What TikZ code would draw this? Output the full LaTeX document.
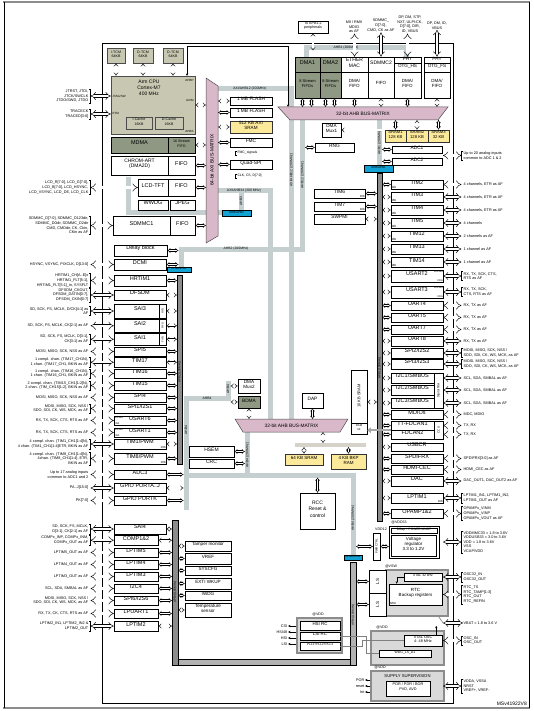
\documentclass[tikz,border=0pt]{standalone}
\usepackage{fontspec}
\setmainfont{Liberation Sans}
\usetikzlibrary{arrows.meta,fit,calc}
\definecolor{olivea}{HTML}{C8C8B2}
\definecolor{oliveb}{HTML}{8E9882}
\definecolor{pinkm}{HTML}{D9B8C9}
\definecolor{sramy}{HTML}{FCE99A}
\definecolor{busg}{HTML}{C6CFCF}
\definecolor{apbg}{HTML}{8C8C8C}
\definecolor{bluel}{HTML}{12A2D4}
\definecolor{pwrg}{HTML}{D9D9D9}
\definecolor{beigeb}{HTML}{D5D2CA}
\tikzset{
 box/.style={draw=black, line width=0.5pt, fill=white, inner sep=0pt, font=\fontsize{5.5}{6}\selectfont, align=center},
 obox/.style={box, fill=olivea, draw=black!70},
 dbox/.style={box, fill=oliveb},
 sbox/.style={box, fill=sramy, draw=black!80, line width=0.7pt},
 pinl/.style={font=\fontsize{3.8}{4.6}\selectfont, align=right, inner sep=0.5pt},
 pinr/.style={font=\fontsize{3.8}{4.6}\selectfont, align=left, inner sep=0.5pt},
 tinyt/.style={font=\fontsize{3}{3.4}\selectfont, inner sep=0.3pt, align=center},
 dbl/.style={double=white, double distance=2.4pt, line width=0.45pt, {Implies}-{Implies}},
 dbls/.style={double=white, double distance=1.3pt, line width=0.4pt, {Implies}-{Implies}},
 bus/.style={busg, line width=5pt},
 apb/.style={draw=black, line width=0.4pt, fill=apbg, inner sep=0pt},
 blab/.style={draw=black, line width=0.4pt, fill=bluel, inner sep=0.3pt, font=\fontsize{3}{3}\selectfont},
 buslab/.style={font=\fontsize{3.4}{3.6}\selectfont, inner sep=0pt},
 grp/.style={draw=black!45, line width=1.2pt, fill=pwrg, inner sep=0pt},
 sarrow/.style={line width=0.5pt, -{Stealth[length=2.5pt,width=2.2pt]}},
}
\newcommand\LP[7]{%
 \node[box, fit={(114,#3)(#2,#4)}] (#1) {#5};
 \node[pinl, anchor=east] (#1L) at (89,{(#3+#4)/2}) {#6};
 \draw[dbl] ([xshift=1.6pt]#1L.east) -- (#1.west);
 \draw[dbls] (#1.east) -- (#1.east -| #7);}
\newcommand\RP[6]{%
 \node[box, fit={(391,#3)(#2,#4)}] (#1) {#5};
 \node[pinr, anchor=west] (#1L) at (463,{(#3+#4)/2}) {#6};
 \draw[dbl] (#1L.west -| pinR) -- ([xshift=-1.6pt]#1L.west);
 \draw[dbls] (#1.west -| apbix) -- (#1.west);}
\newcommand\brL[1]{\draw[line width=0.35pt] ([xshift=0.4pt]#1.north east) -- ++(1.2,0) |- ([xshift=0.4pt]#1.south east);}
\newcommand\brR[1]{\draw[line width=0.35pt] ([xshift=-0.4pt]#1.north west) -- ++(-1.2,0) |- ([xshift=-0.4pt]#1.south west);}
\begin{document}
\begin{tikzpicture}[x=1pt,y=-1pt]
\useasboundingbox (0,0) rectangle (534,711);
% reference coordinates
\coordinate (axL) at (206,0);
\coordinate (axR) at (218,0);
\coordinate (m1T) at (0,107);
\coordinate (m1B) at (0,120);
\coordinate (m2T) at (0,419);
\coordinate (apb2x) at (177,0);
\coordinate (ahb2x) at (178.5,0);
\coordinate (ahb4x) at (183.5,0);
\coordinate (apb4x) at (172,0);
\coordinate (apb4r) at (178,0);
\coordinate (apbix) at (382,0);
\coordinate (apbil) at (377,0);
\coordinate (pinR) at (443,0);
\coordinate (bandC) at (305,0);
\coordinate (ahbv) at (245,0);
\coordinate (bfx) at (230.5,0);
\coordinate (beigeT) at (0,443);
\coordinate (beigeB) at (0,447);
\coordinate (ahbfB) at (0,477.5);
\coordinate (ahbiband) at (0,50.5);
\coordinate (apbfR) at (356,0);
% frame
\draw[line width=1.3pt, black!45] (3,2) -- (530,2);
\draw[line width=1.3pt, black!45] (3,708) -- (530,708);
\draw[line width=0.6pt] (4,2) -- (4,708);
\draw[line width=0.6pt] (529,2) -- (529,708);
\draw[line width=0.6pt] (102,43) rectangle (453,703);
% buses
\draw[bus] (218,89) -- (291.5,89) -- (291.5,419);
\draw[bus] (302.5,120) -- (302.5,249);
\draw[bus] (178.5,249) -- (305,249);
\draw[bus] (181,246.5) -- (181,267);
\draw[bus] (218,191) -- (270.5,191) -- (270.5,419);
\draw[bus] (241,191) -- (241,211);
\draw[bus] (128,177) -- (128,213) -- (222,213);
\draw[bus] (306,48) -- (406,48);
\draw[bus] (306,45.5) -- (306,57);
\draw[bus] (406,45.5) -- (406,57);
\draw[bus] (379.5,120) -- (379.5,166);
\draw[bus] (186,510) -- (186,398) -- (228,398) -- (228,381);
\draw[bus] (186,475) -- (353,475) -- (353,556);
\draw[bus] (247.5,432) -- (247.5,475);
\draw[beigeb, line width=4pt] (295,445) -- (366,445);
\node[buslab] (lb1) at (250,89) {AXI/AHB12 (200MHz)};
\node[buslab, rotate=90] (lb2) at (291.5,170) {AXI/AHB12 (200MHz)};
\node[buslab, rotate=90] (lb3) at (302.5,175) {AHB12 (200MHz)};
\node[buslab] (lb4) at (236,249) {AHB2 (200MHz)};
\node[buslab] (lb5) at (244,191) {AXI/AHB34 (200 MHz)};
\node[buslab, rotate=90] (lb6) at (241,201) {AHB3};
\node[buslab] (lb7) at (346,48) {AHB1 (200MHz)};
\node[buslab, rotate=90] (lb8) at (379.5,142) {AHB1 (200MHz)};
\node[buslab] (lb9) at (207,398) {AHB4};
\node[buslab, rotate=90] (lb10) at (228,389) {AHB4};
\node[buslab, rotate=90] (lb11) at (186,430) {AHB4};
\node[buslab, rotate=90] (lb12) at (247.5,455) {AHB4 (200MHz)};
\node[buslab, rotate=90] (lb13) at (353,518) {AHB4 (200MHz)};
% matrices
\filldraw[fill=pinkm, draw=black!70, line width=0.5pt] (278,107) -- (448,107) -- (438,120) -- (290,120) -- cycle;
\node[font=\fontsize{4.8}{5}\selectfont] (ahbma) at (363,114) {32-bit AHB BUS-MATRIX};
\filldraw[fill=pinkm, draw=black!70, line width=0.5pt] (206,78) -- (218,86) -- (218,236) -- (206,243) -- cycle;
\node[font=\fontsize{4.8}{5}\selectfont, rotate=90] (axim) at (212,160) {64-bit AXI BUS-MATRIX};
\filldraw[fill=pinkm, draw=black!70, line width=0.5pt] (235,419) -- (348,419) -- (340,432) -- (243,432) -- cycle;
\node[font=\fontsize{4.8}{5}\selectfont] (ahbmb) at (291.5,425.5) {32-bit AHB BUS-MATRIX};
% APB bars and bridges
\node[apb, fit={(377,173)(382,521)}] (apbi) {};
\node[apb, fit={(177,275)(182,464)}] (apbii) {};
\node[apb, fit={(172,520)(178,665)}] (apbiva) {};
\node[apb, fill=black!30, fit={(178,659)(356,665)}] (apbivb) {};
\node[apb, fill=black!30, fit={(350,562)(356,665)}] (apbivc) {};
\node[buslab, rotate=90, font=\fontsize{3}{3}\selectfont] (lbp1) at (379.5,368) {APB1 (100MHz)};
\node[buslab, rotate=90, font=\fontsize{3}{3}\selectfont] (lbp2) at (179.5,372) {APB2 (100MHz)};
\node[buslab, rotate=90, font=\fontsize{3}{3}\selectfont] (lbp4) at (175,592) {APB4 (100MHz)};
\node[buslab, rotate=90, font=\fontsize{3}{3}\selectfont] (lbp5) at (353,615) {APB4 (100MHz)};
\node[blab, fit={(222,211)(251,216)}] (bliii) {AHB/APB3};
\node[blab, fit={(167,267)(191,272)}] (blii) {AHB/APB2};
\node[blab, fit={(364,166)(393,172)}] (bli) {AHB/APB1};
\node[blab, fit={(344,555)(362,560)}] (bliv) {AHB/APB4};
% CPU
\node[obox, fit={(107,48)(125,63)}, font=\fontsize{3.6}{4.2}\selectfont] (itcm) {I-TCM\\64KB};
\node[obox, fit={(133,48)(153,63)}, font=\fontsize{3.6}{4.2}\selectfont] (dtcma) {D-TCM\\64KB};
\node[obox, fit={(163,48)(183,63)}, font=\fontsize{3.6}{4.2}\selectfont] (dtcmb) {D-TCM\\64KB};
\node[obox, fit={(111,76)(195,134)}] (cpu) {};
\foreach \nm in {itcm,dtcma,dtcmb} \draw[dbls] (\nm.south) -- (\nm.south |- cpu.north);
\node[font=\fontsize{5}{6}\selectfont, align=center] (cput) at (149,88) {Arm CPU\\Cortex-M7\\400 MHz};
\node[tinyt, anchor=west] (jtagsw) at (112,96) {JTAG/SW};
\node[tinyt, anchor=west] (etm) at (112,113) {ETM};
\node[tinyt, anchor=east] (ahbp) at (194,80) {AHBP};
\node[tinyt, anchor=east] (aximl) at (194,100) {AXIM};
\node[tinyt, anchor=east] (ahbs) at (194,131) {AHBS};
\node[obox, fit={(126,117)(152,129)}, font=\fontsize{3.6}{4.2}\selectfont] (icache) {I-Cache\\16KB};
\node[obox, fit={(155,117)(183,129)}, font=\fontsize{3.6}{4.2}\selectfont] (dcache) {D-Cache\\16KB};
\coordinate (ahbpc) at (187,76);
\coordinate (mtopc) at (288,107);
\draw[line width=0.5pt, {Stealth[length=2.5pt,width=2.2pt]}-{Stealth[length=2.5pt,width=2.2pt]}] (ahbpc) |- (288,46) -- (mtopc);
\node[pinl, anchor=east] (jtagL) at (89,96) {JTRST, JTDI,\\JTCK/SWCLK\\JTDO/SWD, JTDO};
\draw[dbl] ([xshift=1.6pt]jtagL.east) -- (jtagL.east -| cpu.west);
\brL{jtagL}
\node[pinl, anchor=east] (traceL) at (89,114) {TRACECK\\TRACED[3:0]};
\draw[dbl] ([xshift=1.6pt]traceL.east) -- (traceL.east -| cpu.west);
\brL{traceL}
% left upper blocks
\node[dbox, fit={(111,137)(168,153)}] (mdma) {MDMA};
\node[dbox, fit={(168,137)(195,153)}, font=\fontsize{3.6}{4.2}\selectfont] (mdmaf) {16 Stream\\FIFO};
\node[box, fit={(111,156)(168,175)}, font=\fontsize{5}{5.8}\selectfont] (chrom) {CHROM-ART\\(DMA2D)};
\node[box, fit={(168,156)(195,175)}] (chromf) {FIFO};
\node[box, fit={(138,179)(168,196)}] (lcd) {LCD-TFT};
\node[box, fit={(168,179)(195,196)}] (lcdf) {FIFO};
\node[box, fit={(138,200)(168,210)}] (wwdg) {WWDG};
\node[box, fit={(170,200)(195,210)}] (jpeg) {JPEG};
\node[box, fit={(113,216)(170,235)}] (sdmmca) {SDMMC1};
\node[box, fit={(170,216)(195,235)}] (sdf) {FIFO};
\draw[dbls] (cpu.east) -- (cpu.east -| axL);
\foreach \nm in {mdmaf,chromf,lcdf,sdf} \draw[dbls] (\nm.east) -- (\nm.east -| axL);
\node[pinl, anchor=east] (lcdL) at (89,187.5) {LCD\_R[7:0], LCD\_G[7:0],\\LCD\_B[7:0], LCD\_HSYNC,\\LCD\_VSYNC, LCD\_DE, LCD\_CLK};
\draw[dbl] ([xshift=1.6pt]lcdL.east) -- (lcd.west);
\brL{lcdL}
\node[pinl, anchor=east] (sdaL) at (89,225.5) {SDMMC\_D[7:0], SDMMC\_D123dir,\\SDMMC\_D0dir, SDMMC\_D2dir\\CMD, CMDdir, CK, Ckin,\\CKin as AF};
\draw[dbl] ([xshift=1.6pt]sdaL.east) -- (sdmmca.west);
\brL{sdaL}
% AXI memories
\node[box, fit={(230,97)(272,105)}, font=\fontsize{4.8}{5}\selectfont] (fla) {1 MB FLASH};
\node[box, fit={(230,108)(272,117)}, font=\fontsize{4.8}{5}\selectfont] (flb) {1 MB FLASH};
\node[sbox, fit={(230,121)(272,133)}, font=\fontsize{4.6}{5.2}\selectfont] (axisram) {512 KB AXI\\SRAM};
\node[box, fit={(230,138)(272,147)}, font=\fontsize{4.8}{5}\selectfont] (fmc) {FMC};
\node[box, fit={(230,160)(272,169)}, font=\fontsize{4.8}{5}\selectfont] (qspi) {Quad-SPI};
\foreach \nm in {fla,flb,axisram,fmc,qspi} \draw[dbls] (\nm.west -| axR) -- (\nm.west);
\node[tinyt, anchor=west, font=\fontsize{3.4}{4}\selectfont] (fmcs) at (237,153) {FMC\_signals};
\draw[line width=0.35pt] ([xshift=-0.4pt]fmcs.north west) -- ++(-1.2,0) |- ([xshift=-0.4pt]fmcs.south west);
\node[tinyt, anchor=west, font=\fontsize{3.4}{4}\selectfont] (qspis) at (237,176) {CLK, CS, D[7:0]};
\draw[line width=0.35pt] ([xshift=-0.4pt]qspis.north west) -- ++(-1.2,0) |- ([xshift=-0.4pt]qspis.south west);
% top right masters
\node[box, fit={(298,21)(328,33)}, font=\fontsize{3.6}{4.3}\selectfont] (toapb) {To APB1-2\\peripherals};
\draw[dbls] (toapb.south) -- (toapb.south |- ahbiband);
\node[dbox, fit={(295,57)(320,72)}] (dmaa) {DMA1};
\node[dbox, fit={(295,72)(320,98)}, font=\fontsize{4}{4.8}\selectfont] (dmaaf) {8 Stream\\FIFOs};
\node[dbox, fit={(320,57)(341,72)}] (dmab) {DMA2};
\node[dbox, fit={(320,72)(341,98)}, font=\fontsize{4}{4.8}\selectfont] (dmabf) {8 Stream\\FIFOs};
\node[box, fit={(341,57)(368,72)}, font=\fontsize{5}{5.6}\selectfont] (eth) {ETHER\\MAC};
\node[box, fit={(341,72)(368,98)}, font=\fontsize{4.5}{5.2}\selectfont] (ethf) {DMA/\\FIFO};
\node[box, fit={(368,57)(394,72)}, font=\fontsize{5}{5.6}\selectfont] (sdb) {SDMMC2};
\node[box, fit={(368,72)(394,98)}, font=\fontsize{4.5}{5.2}\selectfont] (sdbf) {FIFO};
\node[box, fit={(394,57)(421,63.5)}, font=\fontsize{4.6}{5}\selectfont] (phyhs) {PHY};
\node[box, fit={(394,63.5)(421,72)}, font=\fontsize{4.6}{5}\selectfont] (otghs) {OTG\_HS};
\node[box, fit={(394,72)(421,98)}, font=\fontsize{4.5}{5.2}\selectfont] (otghsf) {DMA/\\FIFO};
\node[box, fit={(424,57)(450,63.5)}, font=\fontsize{4.6}{5}\selectfont] (phyfs) {PHY};
\node[box, fit={(424,63.5)(450,72)}, font=\fontsize{4.6}{5}\selectfont] (otgfs) {OTG\_FS};
\node[box, fit={(424,72)(450,98)}, font=\fontsize{4.5}{5.2}\selectfont] (otgfsf) {DMA/\\FIFO};
\foreach \nm in {dmaaf,dmabf} {
 \draw[dbls] ([xshift=-5pt]\nm.south) -- ([xshift=-5pt]\nm.south |- m1T);
 \draw[dbls] ([xshift=4pt]\nm.south) -- ([xshift=4pt]\nm.south |- m1T);}
\foreach \nm in {ethf,sdbf,otghsf,otgfsf} \draw[dbls] (\nm.south) -- (\nm.south |- m1T);
\node[pinr, align=center] (miiL) at (354,27) {MII / RMII\\MDIO\\as AF};
\node[pinr, align=center] (sdbL) at (381,25.5) {SDMMC\_\\D[7:0],\\CMD, CK as AF};
\node[pinr, align=center] (hsL) at (410,24.5) {DP, DM, STP,\\NXT, ULPI:CK,\\D[7:0], DIR,\\ID, VBUS};
\node[pinr, align=center] (fsL) at (437,25.5) {DP, DM, ID,\\VBUS};
\draw[dbl] (eth.north |- miiL.south) -- (eth.north);
\draw[dbl] (sdb.north |- sdbL.south) -- (sdb.north);
\draw[dbl] (phyhs.north |- hsL.south) -- (phyhs.north);
\draw[dbl] (phyfs.north |- fsL.south) -- (phyfs.north);
% AHB1 slaves
\node[sbox, fit={(385,130)(406,142)}, font=\fontsize{4.2}{4.8}\selectfont] (srama) {SRAM1\\128 KB};
\node[sbox, fit={(406,130)(428,142)}, font=\fontsize{4.2}{4.8}\selectfont] (sramb) {SRAM2\\128 KB};
\node[sbox, fit={(428,130)(449,142)}, font=\fontsize{4.2}{4.8}\selectfont] (sramc) {SRAM3\\32 KB};
\foreach \nm in {srama,sramb,sramc} \draw[dbls] (\nm.north |- m1B) -- (\nm.north);
\node[box, fit={(322,123)(341,137)}, font=\fontsize{4.6}{5.2}\selectfont] (dmamuxa) {DMA\\Mux1};
\draw[double=white, double distance=1.3pt, line width=0.4pt, -{Implies}] (srama.west |- dmamuxa.east) -- (dmamuxa.east);
\node[box, fit={(315,143)(354,152)}, font=\fontsize{4.8}{5}\selectfont] (rng) {RNG};
\draw[dbls] (rng.west -| bandC) -- (rng.west);
\node[box, fit={(392,146)(442,153)}, font=\fontsize{4.8}{5}\selectfont] (adca) {ADC1};
\node[box, fit={(392,158)(442,165)}, font=\fontsize{4.8}{5}\selectfont] (adcb) {ADC2};
\draw[dbls] (adca.west -| apbix) -- (adca.west);
\draw[dbls] (adcb.west -| apbix) -- (adcb.west);
\node[pinr, anchor=west] (adcL) at (463,155.5) {Up to 20 analog inputs\\common to ADC 1 \& 2};
\draw[dbl] (adcL.west -| pinR) -- ([xshift=-1.6pt]adcL.west);
\brR{adcL}
\node[box, fit={(314,189)(365,198)}, font=\fontsize{4.8}{5}\selectfont] (timvi) {TIM6};
\node[box, fit={(314,202)(365,211)}, font=\fontsize{4.8}{5}\selectfont] (timvii) {TIM7};
\node[box, fit={(314,214)(365,224)}, font=\fontsize{4.8}{5}\selectfont] (swpmi) {SWPMI};
\node[tinyt, anchor=south east] (timvit) at (timvi.south east) {16b};
\node[tinyt, anchor=south east] (timviit) at (timvii.south east) {16b};
\foreach \nm in {timvi,timvii,swpmi} \draw[dbls] (\nm.east) -- (\nm.east -| apbil);
% left peripherals
\node[box, fit={(114,245)(167,256)}] (delay) {Delay block};
\draw[dbls] (delay.east) -- (delay.east -| ahb2x);
\LP{dcmi}{166}{259}{270}{DCMI}{HSYNC, VSYNC, PIXCLK, D[13:0]}{ahb2x}
\LP{hrtim}{166}{275}{286}{HRTIM1}{HRTIM1\_CH[A..E]x\\HRTIM1\_FLT[5:1],\\HRTIM1\_FLT[5:1]\_in, SYSFLT}{apb2x}
\brL{hrtimL}
\LP{dfsdm}{166}{290}{300}{DFSDM}{DFSDM\_CKOUT,\\DFSDM\_DATIN[0:7],\\DFSDM\_CKIN[0:7]}{apb2x}
\brL{dfsdmL}
\LP{saiiii}{166}{304}{318}{SAI3}{SD, SCK, FS, MCLK, D/CK[4:1] as\\AF}{apb2x}
\brL{saiiiiL}
\LP{saiii}{166}{319.5}{332}{SAI2}{SD, SCK, FS, MCLK, CK[2:1] as AF}{apb2x}
\LP{saii}{166}{333.5}{345}{SAI1}{SD, SCK, FS, MCLK, D[3:1],\\CK[3:1] as AF}{apb2x}
\brL{saiiL}
\foreach \nm in {saiiii,saiii,saii} {
 \draw[line width=0.4pt] ([xshift=-7pt]\nm.north east) -- ([xshift=-7pt]\nm.south east);
 \node[tinyt, rotate=90, font=\fontsize{2.6}{3}\selectfont] (\nm ft) at ([xshift=-3.5pt]\nm.east) {FIFO};}
\LP{spiv}{166}{347}{356}{SPI5}{MOSI, MISO, SCK, NSS as AF}{apb2x}
\LP{timxvii}{166}{357.5}{367}{TIM17}{1 compl. chan. (TIM17\_CH1N),\\1 chan. (TIM17\_CH1, BKIN as AF}{apb2x}
\brL{timxviiL}
\LP{timxvi}{166}{369}{378}{TIM16}{1 compl. chan. (TIM16\_CH1N),\\1 chan. (TIM16\_CH1, BKIN as AF}{apb2x}
\brL{timxviL}
\LP{timxv}{166}{381}{390}{TIM15}{2 compl. chan. (TIM15\_CH1[1:2]N),\\2 chan. (TIM\_CH15[1:2], BKIN as AF}{apb2x}
\brL{timxvL}
\LP{spiiv}{166}{393}{402}{SPI4}{MOSI, MISO, SCK, NSS as AF}{apb2x}
\LP{spii}{166}{404}{413}{SPI1/I2S1}{MOSI, MISO, SCK, NSS /\\SDO, SDI, CK, WS, MCK, as AF}{apb2x}
\brL{spiiL}
\LP{usartvi}{166}{416}{425}{USART6}{RX, TX, SCK, CTS, RTS as AF}{apb2x}
\LP{usarti}{166}{428}{437}{USART1}{RX, TX, SCK, CTS, RTS as AF}{apb2x}
\node[tinyt, anchor=north west, font=\fontsize{2.6}{3}\selectfont] (usvia) at (usartvi.north west) {smcard};
\node[tinyt, anchor=south west, font=\fontsize{2.6}{3}\selectfont] (usvib) at (usartvi.south west) {IrDA};
\node[tinyt, anchor=north west, font=\fontsize{2.6}{3}\selectfont] (usia) at (usarti.north west) {smcard};
\node[tinyt, anchor=south west, font=\fontsize{2.6}{3}\selectfont] (usib) at (usarti.south west) {IrDA};
\LP{timi}{166}{439}{449}{TIM1/PWM}{4 compl. chan. (TIM1\_CH1[1:4]N),\\4 chan. (TIM1\_CH1[1:4]ETR, BKIN as AF}{apb2x}
\brL{timiL}
\LP{timviii}{166}{453}{464}{TIM8/PWM}{4 compl. chan. (TIM8\_CH1[1:4]N),\\4chan. (TIM8\_CH1[1:4], ETR,\\BKIN as AF}{apb2x}
\brL{timviiiL}
\node[tinyt, anchor=south east] (timit) at (timi.south east) {16b};
\node[tinyt, anchor=south east] (timviiit) at (timviii.south east) {16b};
\LP{adciii}{166}{470}{479}{ADC3}{Up to 17 analog inputs\\common to ADC1 and 2}{ahb4x}
\LP{gpioa}{166}{483}{493}{GPIO PORTA..J}{PA..J[15:0]}{ahb4x}
\LP{gpiok}{166}{496}{505}{GPIO PORTK}{PK[7:0]}{ahb4x}
\LP{saiiv}{166}{524}{534}{SAI4}{SD, SCK, FS, MCLK,\\D[3:1], CK[2:1] as AF}{apb4x}
\brL{saiivL}
\LP{comp}{158}{535.5}{545}{COMP1\&2}{COMPx\_INP, COMPx\_INM,\\COMPx\_OUT as AF}{apb4x}
\brL{compL}
\LP{lptimv}{158}{548}{557}{LPTIM5}{LPTIM5\_OUT as AF}{apb4x}
\LP{lptimiv}{158}{560}{569}{LPTIM4}{LPTIM4\_OUT as AF}{apb4x}
\LP{lptimiii}{158}{572}{581}{LPTIM3}{LPTIM3\_OUT as AF}{apb4x}
\LP{iiciv}{158}{584}{593}{I2C4}{SCL, SDA, SMBAL as AF}{apb4x}
\LP{spivi}{158}{596}{605}{SPI6/I2S6}{MOSI, MISO, SCK, NSS /\\SDO, SDI, CK, WS, MCK, as AF}{apb4x}
\LP{lpuart}{158}{609}{618}{LPUART1}{RX, TX, CK, CTS, RTS as AF}{apb4x}
\LP{lptimii}{158}{621}{631}{LPTIM2}{LPTIM2\_IN1, LPTIM2\_IN2 \&\\LPTIM2\_OUT}{apb4x}
\brL{lptimiiL}
% right peripherals
\RP{timii}{443}{180}{189}{TIM2}{4 channels, ETR as AF}
\RP{timiii}{443}{192}{202}{TIM3}{4 channels, ETR as AF}
\RP{timiv}{443}{205}{215}{TIM4}{4 channels, ETR as AF}
\RP{timv}{443}{218}{228}{TIM5}{4 channels}
\RP{timxii}{443}{231}{241}{TIM12}{2 channels as AF}
\RP{timxiii}{443}{244}{254}{TIM13}{1 channel as AF}
\RP{timxiv}{443}{257}{267}{TIM14}{1 channel as AF}
\node[tinyt, anchor=south west] (tgii) at (timii.south west) {32b};
\node[tinyt, anchor=south west] (tgiii) at (timiii.south west) {16b};
\node[tinyt, anchor=south west] (tgiv) at (timiv.south west) {16b};
\node[tinyt, anchor=south west] (tgv) at (timv.south west) {32b};
\node[tinyt, anchor=south west] (tgxii) at (timxii.south west) {16b};
\node[tinyt, anchor=south west] (tgxiii) at (timxiii.south west) {16b};
\node[tinyt, anchor=south west] (tgxiv) at (timxiv.south west) {16b};
\RP{usartii}{443}{270}{282}{USART2}{RX, TX, SCK, CTS,\\RTS as AF}
\brR{usartiiL}
\RP{usartiii}{443}{286}{298}{USART3}{RX, TX, SCK,\\CTS, RTS as AF}
\brR{usartiiiL}
\node[tinyt, anchor=north east, font=\fontsize{2.6}{3}\selectfont] (usiia) at (usartii.north east) {smcard};
\node[tinyt, anchor=south east, font=\fontsize{2.6}{3}\selectfont] (usiib) at (usartii.south east) {IrDA};
\node[tinyt, anchor=north east, font=\fontsize{2.6}{3}\selectfont] (usiiia) at (usartiii.north east) {smcard};
\node[tinyt, anchor=south east, font=\fontsize{2.6}{3}\selectfont] (usiiib) at (usartiii.south east) {IrDA};
\RP{uartiv}{443}{301}{310}{UART4}{RX, TX as AF}
\RP{uartv}{443}{313}{322}{UART5}{RX, TX as AF}
\RP{uartvii}{443}{325}{334}{UART7}{RX, TX as AF}
\RP{uartviii}{443}{336}{346}{UART8}{RX, TX as AF}
\RP{spiii}{443}{348}{358}{SPI2/I2S2}{MOSI, MISO, SCK, NSS /\\SDO, SDI, CK, WS, MCK, as AF}
\brR{spiiiL}
\RP{spiiii}{443}{359}{369}{SPI3/I2S3}{MOSI, MISO, SCK, NSS /\\SDO, SDI, CK, WS, MCK, as AF}
\brR{spiiiiL}
\RP{iici}{434}{373}{383}{I2C1/SMBUS}{SCL, SDA, SMBAL as AF}
\RP{iicii}{434}{385}{395}{I2C2/SMBUS}{SCL, SDA, SMBAL as AF}
\RP{iiciii}{434}{398}{408}{I2C3/SMBUS}{SCL, SDA, SMBAL as AF}
\node[box, fit={(434,373)(443,408)}] (iicside) {};
\node[tinyt, rotate=90] (iicsidet) at (iicside) {Digital filter};
\RP{mdio}{443}{410}{419}{MDIOs}{MDC, MDIO}
\RP{fdcani}{434}{421}{430}{TT-FDCAN1}{TX, RX}
\RP{fdcanii}{434}{430}{439}{FDCAN2}{TX, RX}
\node[box, fit={(434,421)(443,439)}] (fdside) {};
\node[tinyt, rotate=90] (fdsidet) at (fdside) {CCU};
\node[box, fit={(391,443)(443,451)}] (usbcr) {USBCR};
\draw[dbls] (usbcr.west -| apbix) -- (usbcr.west);
\RP{spdif}{443}{454}{463}{SPDIFRX}{SPDIFRX[3:0] as AF}
\RP{hdmi}{443}{465}{474}{HDMI-CEC}{HDMI\_CEC as AF}
\RP{dac}{443}{476}{486}{DAC}{DAC\_OUT1, DAC\_OUT2 as AF}
\RP{lptimi}{443}{493}{503}{LPTIM1}{LPTIM1\_IN1, LPTIM1\_IN2,\\LPTIM1\_OUT as AF}
\brR{lptimiL}
\node[tinyt, anchor=south east] (tglpi) at (lptimi.south east) {16b};
\RP{opamp}{443}{509}{518}{OPAMP1\&2}{OPAMPx\_VINM\\OPAMPx\_VINP\\OPAMPx\_VOUT as AF}
\brR{opampL}
% 10 KB SRAM
\node[box, fit={(351,370)(367,434)}] (sramx) {};
\node[box, fit={(351,423)(367,434)}, font=\fontsize{2.8}{3.2}\selectfont] (ramif) {RAM\\I/F};
\node[tinyt, rotate=90, font=\fontsize{4}{4}\selectfont] (sramxt) at (359,396) {10 KB SRAM};
\draw[dbls] (sramx.east) -- (sramx.east -| apbil);
\draw[black!35, line width=2.2pt, -{Triangle[length=3.5pt,width=5.5pt]}] (fdcani.south west) -- (fdcani.south west -| sramx.east);
% lower matrix area
\node[box, fit={(238,379)(260,393)}, font=\fontsize{4.6}{5.2}\selectfont] (dmamuxb) {DMA\\Mux2};
\node[dbox, fit={(238,396)(260,408)}, font=\fontsize{4.8}{5}\selectfont] (bdma) {BDMA};
\draw[dbls] (dmamuxb.west -| bfx) -- (dmamuxb.west);
\draw[dbls] (bdma.west -| bfx) -- (bdma.west);
\draw[dbls] (bdma.south) -- (bdma.south |- m2T);
\node[box, fit={(302,393)(323,408)}, font=\fontsize{4.8}{5}\selectfont] (dap) {DAP};
\draw[dbls] (dap.south) -- (dap.south |- m2T);
\coordinate (mbo) at (323,432);
\draw[dbls] (mbo) -- (mbo |- beigeT);
\node[sbox, fit={(285,454)(323,465)}, font=\fontsize{4.5}{5}\selectfont] (sramlx) {64 KB SRAM};
\node[sbox, fit={(331,454)(366,469)}, font=\fontsize{4.5}{5}\selectfont] (bkp) {4 KB BKP\\RAM};
\draw[dbls] (sramlx.north |- beigeB) -- (sramlx.north);
\draw[dbls] (bkp.north |- beigeB) -- (bkp.north);
\node[box, fit={(189,446)(234,457)}, font=\fontsize{5}{5.4}\selectfont] (hsem) {HSEM};
\node[box, fit={(189,459)(234,468)}, font=\fontsize{5}{5.4}\selectfont] (crc) {CRC};
\draw[dbls] (hsem.east) -- (hsem.east -| ahbv);
\draw[dbls] (crc.east) -- (crc.east -| ahbv);
\node[box, fit={(300,493)(335,529)}, font=\fontsize{5}{6.2}\selectfont] (rcc) {RCC\\Reset \&\\control};
\draw[dbls] (rcc.north |- ahbfB) -- (rcc.north);
% APB4 slaves
\node[box, fit={(185,541)(231,551)}, font=\fontsize{4.6}{5}\selectfont] (tamper) {Tamper monitor};
\node[box, fit={(185,553)(231,564)}, font=\fontsize{4.6}{5}\selectfont] (vref) {VREF};
\node[box, fit={(185,566)(231,575)}, font=\fontsize{4.6}{5}\selectfont] (syscfg) {SYSCFG};
\node[box, fit={(185,578)(231,589)}, font=\fontsize{4.6}{5}\selectfont] (exti) {EXTI WKUP};
\node[box, fit={(185,591)(231,600)}, font=\fontsize{4.6}{5}\selectfont] (iwdg) {IWDG};
\node[box, fit={(185,603)(231,617)}, font=\fontsize{4.6}{5}\selectfont] (temp) {Temperature\\sensor};
\foreach \nm in {tamper,vref,syscfg,exti,iwdg,temp} \draw[dbls] (\nm.west -| apb4r) -- (\nm.west);
% clocks
\node[grp, fit={(297,618)(342,653)}] (hsig) {};
\node[tinyt, font=\fontsize{3.6}{4}\selectfont] (hsivdd) at (318,614.5) {@VDD};
\node[box, fit={(300,621)(340,630)}, font=\fontsize{4.4}{5}\selectfont] (hsirc) {HSI RC};
\node[box, fit={(300,632)(340,640)}, font=\fontsize{4.4}{5}\selectfont] (lsirc) {LSI RC};
\node[box, fit={(300,642)(340,650)}, font=\fontsize{3.2}{4}\selectfont] (pll) {PLL1+PLL2+PLL3};
\node[pinl, anchor=east] (csiL) at (288,626) {CSI};
\node[pinl, anchor=east] (hsiaL) at (288,632) {HSI48};
\node[pinl, anchor=east] (hsiL) at (288,638) {HSI};
\node[pinl, anchor=east] (lsiL) at (288,644) {LSI};
\foreach \nm in {csiL,hsiaL,hsiL,lsiL} \draw[sarrow, line width=0.7pt] (hsig.west |- \nm.east) -- (\nm.east);
% power
\node[tinyt, font=\fontsize{3.6}{4}\selectfont] (vddxxxiii) at (399,522.5) {@VDD33};
\node[tinyt, font=\fontsize{3.6}{4}\selectfont] (vddxii) at (381,529) {VDD12};
\node[box, fit={(389,526)(439,558)}] (pwr) {};
\node[box, fit={(391,528)(437,533)}, font=\fontsize{3.2}{3.4}\selectfont] (pmgt) {BGap + POWER MNGT};
\node[box, fit={(391,535)(436,556)}, font=\fontsize{4.5}{5.2}\selectfont] (vreg) {Voltage\\regulator\\3.3 to 1.2V};
\node[box, fit={(373,533)(380,560)}] (pwrctrl) {};
\node[tinyt, rotate=90] (pwrctrlt) at (pwrctrl) {PWRCTRL};
\draw[dbls] (pwrctrl.east) -- (pwrctrl.east -| pwr.west);
\draw[dbls] (pwrctrl.west -| apbfR) -- (pwrctrl.west);
\node[pinr, anchor=west] (pwrL) at (463,542) {VDDMMC33 = 1.8 to 3.6V\\VDDUSB33 = 3.0 to 3.6V\\VDD = 1.8 to 3.6V\\VSS\\VCAP/VDD};
\draw[dbl] (pwr.east -| pinR) -- ([xshift=-1.6pt]pwrL.west);
\brR{pwrL}
% VSW domain
\node[grp, fit={(386,570)(448,616)}] (vswg) {};
\node[box, fit={(369,570)(386,593)}] (lsa) {};
\node[tinyt, rotate=90, font=\fontsize{4.5}{5}\selectfont] (lsat) at (lsa) {LS};
\node[box, fit={(369,593)(386,616)}] (lsb) {};
\node[tinyt, rotate=90, font=\fontsize{4.5}{5}\selectfont] (lsbt) at (lsb) {LS};
\node[tinyt, font=\fontsize{3.6}{4}\selectfont] (vswl) at (391,566) {@VSW};
\node[box, fit={(404,573)(442,581)}, font=\fontsize{3.4}{4}\selectfont] (xtal) {XTAL 32 kHz};
\node[box, fit={(389,584)(442,605)}, font=\fontsize{4.5}{5.4}\selectfont] (rtc) {RTC\\Backup registers};
\node[tinyt, anchor=south west] (awu) at (rtc.south west) {AWU};
\draw[sarrow] (xtal.west) -| ([xshift=8pt]rtc.north west);
\draw[dbls] (lsa.west -| apbfR) -- (lsa.west);
\draw[dbls] (lsb.west -| apbfR) -- (lsb.west);
\node[pinr, anchor=west] (xtalL) at (463,577) {OSC32\_IN\\OSC32\_OUT};
\draw[dbl] (xtal.east -| pinR) -- ([xshift=-1.6pt]xtalL.west);
\brR{xtalL}
\node[pinr, anchor=west] (rtcL) at (463,594.5) {RTC\_TS\\RTC\_TAMP[1:3]\\RTC\_OUT\\RTC\_REFIN};
\draw[dbl] (rtc.east -| pinR) -- ([xshift=-1.6pt]rtcL.west);
\brR{rtcL}
\coordinate (vbats) at (443,623);
\node[pinr, anchor=west] (vbatL) at (463,623) {VBAT = 1.8 to 3.6 V};
\draw[dbl] (vbats) -- (vbatL.west);
\draw[black!50, line width=0.6pt] ([xshift=-10pt]vswg.south east) -- (vbats);
% HSE domain
\node[grp, fit={(371,631)(444,665)}] (oscg) {};
\node[tinyt, font=\fontsize{3.6}{4}\selectfont] (oscvdd) at (382,627.5) {@VDD};
\node[box, fit={(404,635)(442,646)}, font=\fontsize{3.8}{4.6}\selectfont] (xosc) {XTAL OSC\\4- 48 MHz};
\node[box, fit={(379,650)(431,657)}, font=\fontsize{3.4}{4}\selectfont] (wdgls) {WDG\_LS\_D1};
\draw[sarrow] ([xshift=-6pt]xosc.north east) -- ++(0,-9);
\draw[black!50, line width=0.5pt] (pll.east) -- ++(22,0) |- (xosc.west);
\draw[black!50, line width=0.5pt] (lsirc.east) -- ++(26,0) |- (wdgls.west);
\node[pinr, anchor=west] (xoscL) at (463,640.5) {OSC\_IN\\OSC\_OUT};
\draw[dbl] (xosc.east -| pinR) -- ([xshift=-1.6pt]xoscL.west);
\brR{xoscL}
% supply supervision
\node[grp, fit={(371,671)(444,701)}] (supg) {};
\node[tinyt, font=\fontsize{3.6}{4}\selectfont] (supvdd) at (380,667.5) {@VDD};
\node[tinyt, font=\fontsize{4.2}{4.6}\selectfont] (supt) at (407.5,676) {SUPPLY SUPERVISION};
\node[box, fit={(386,681)(430,696)}, font=\fontsize{3.8}{4.6}\selectfont] (por) {POR / PDR / BOR\\PVD, AVD};
\node[pinl, anchor=east] (porL) at (365,680) {POR};
\node[pinl, anchor=east] (rstL) at (365,686) {reset};
\node[pinl, anchor=east] (intL) at (365,692) {Int};
\foreach \nm in {porL,rstL,intL} \draw[sarrow, line width=0.7pt] (supg.west |- \nm.east) -- (\nm.east);
\node[pinr, anchor=west] (supL) at (463,686) {VDDA, VSSA\\NRST\\VREF+, VREF-};
\draw[dbl] (supg.east -| pinR) -- ([xshift=-1.6pt]supL.west);
\brR{supL}
\node[font=\fontsize{5}{5}\selectfont, anchor=east, inner sep=0pt] (msv) at (527,704) {MSv41922V8};
\end{tikzpicture}
\end{document}
